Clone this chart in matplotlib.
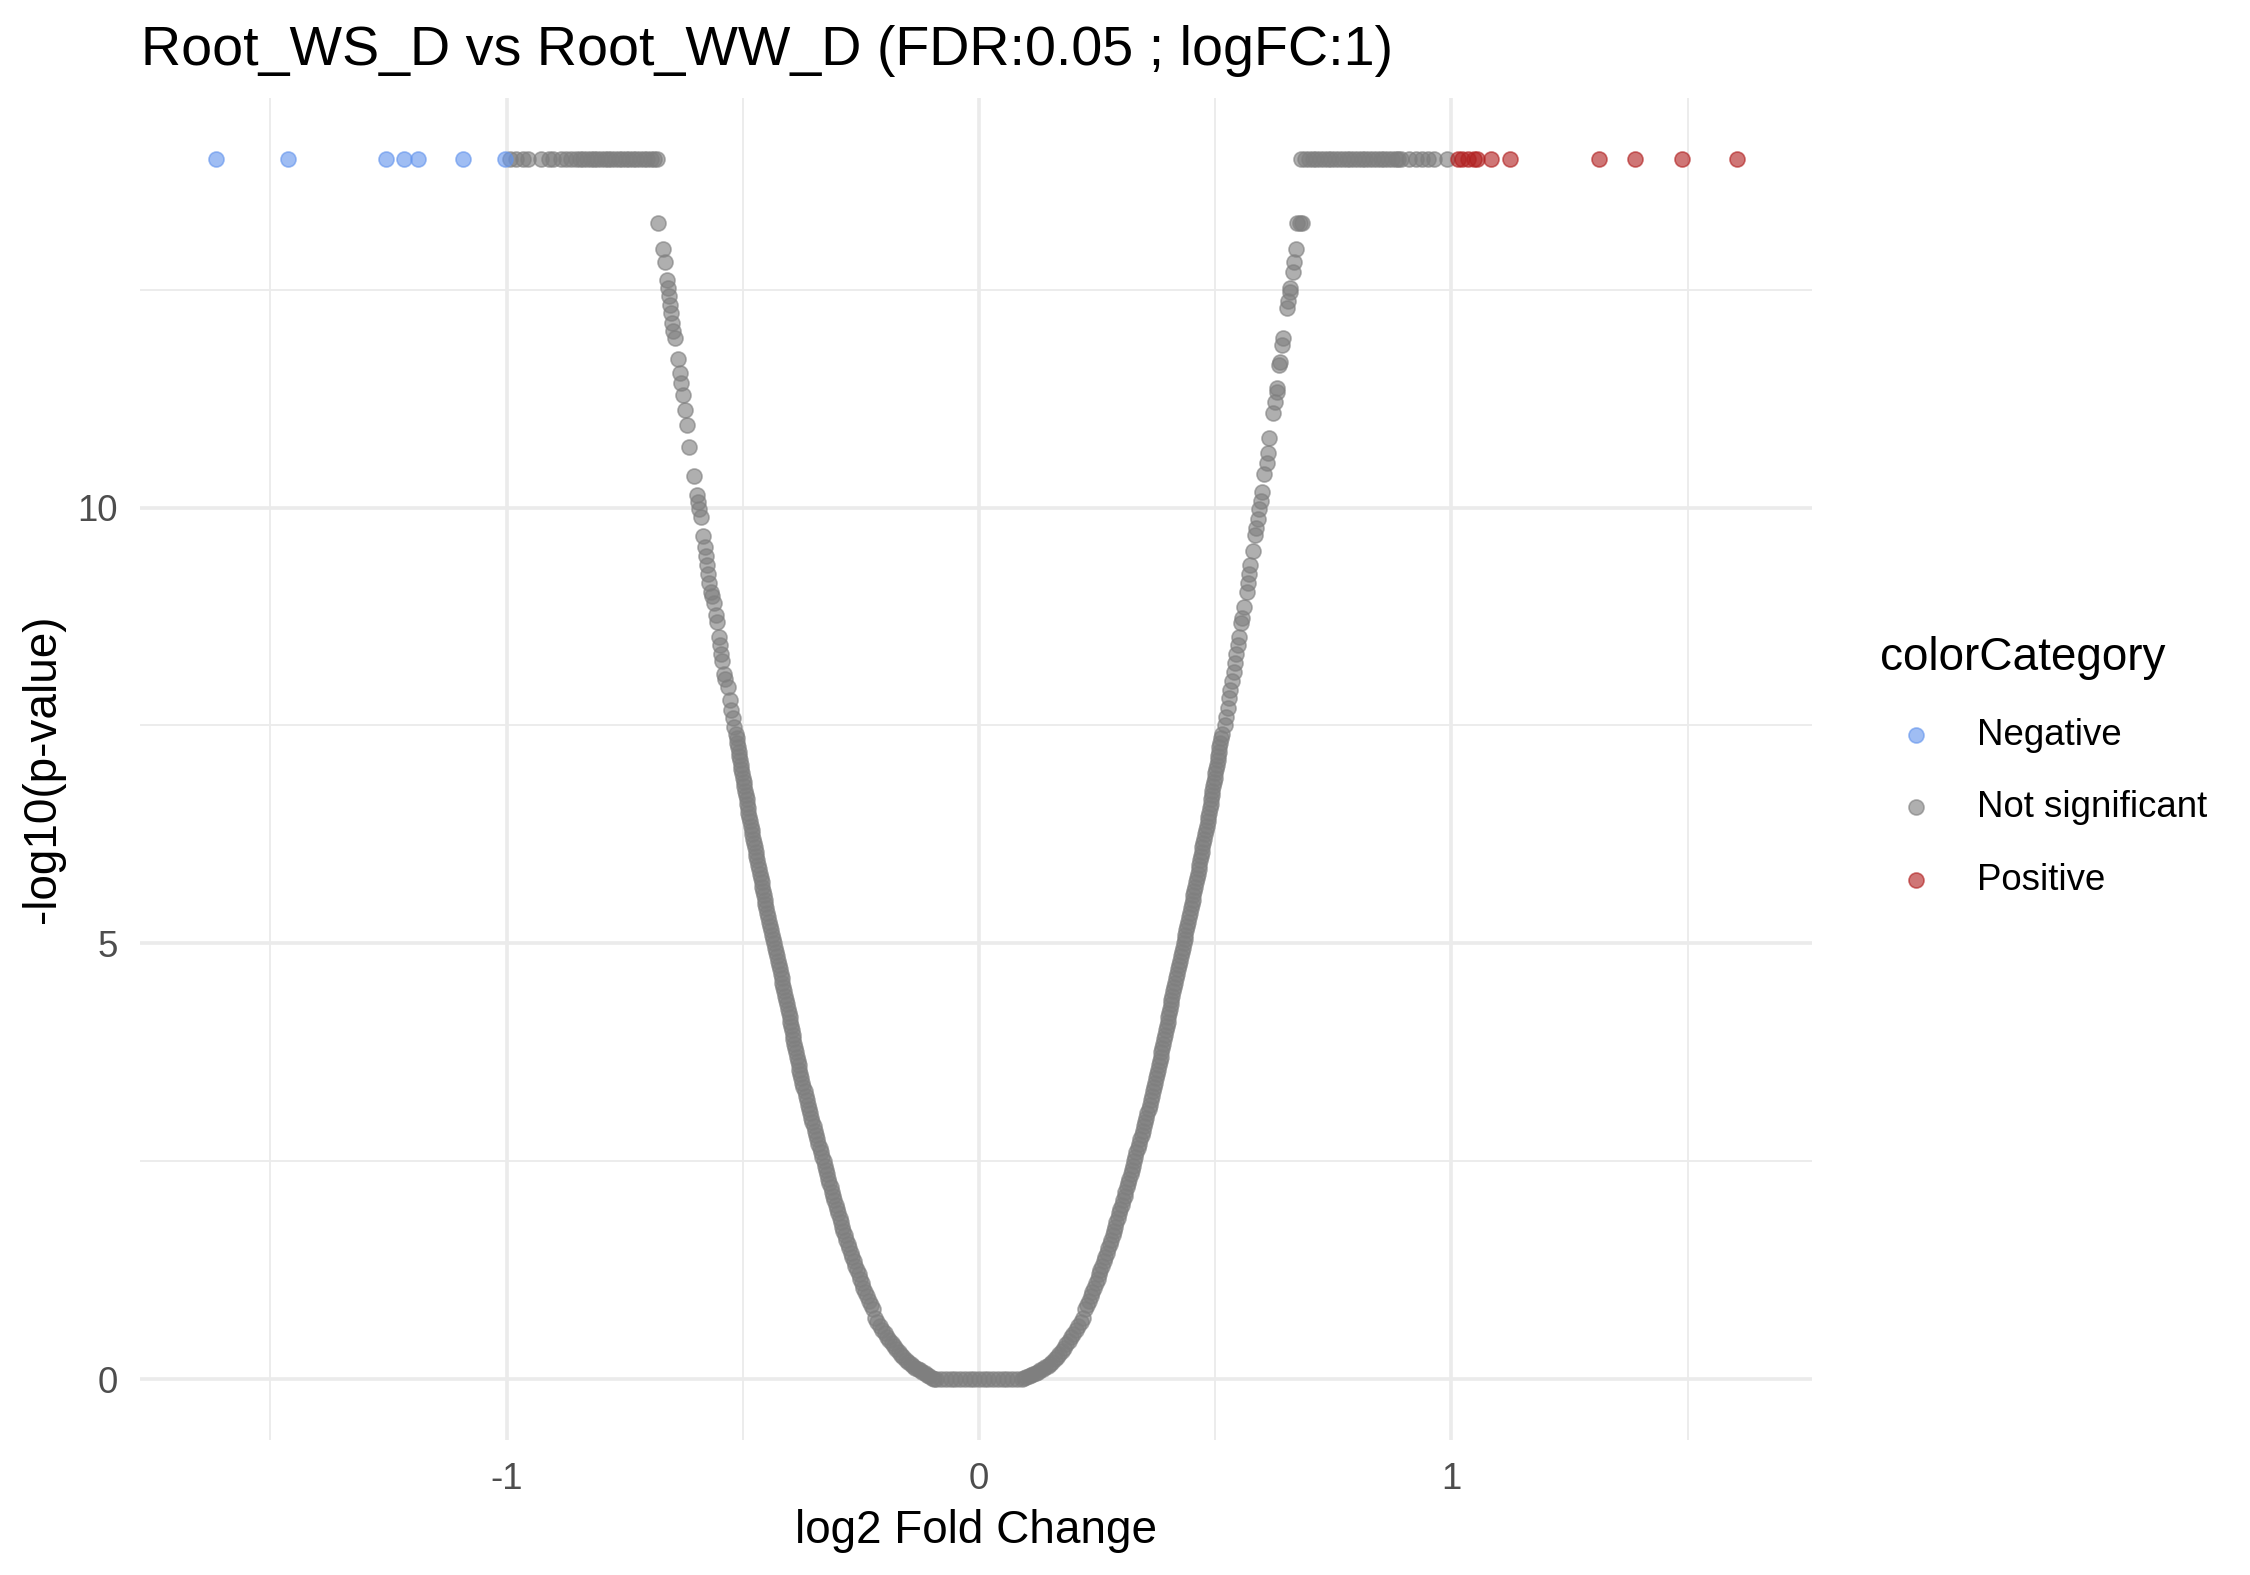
import numpy as np
import matplotlib
matplotlib.use("Agg")
import matplotlib.pyplot as plt
from matplotlib.ticker import MultipleLocator

plt.rcParams['font.family'] = ['Liberation Sans', 'DejaVu Sans']
plt.rcParams['axes.unicode_minus'] = False

# ---- data ----
p_cap = 14.0  # -log10(p) of genes with p == 0 (top row)

neg_lfc = [-1.616, -1.463, -1.256, -1.218, -1.187, -1.093, -1.003]
pos_lfc = [1.013, 1.022, 1.035, 1.047, 1.054, 1.083, 1.124, 1.312, 1.388, 1.487, 1.604]

top_gray_left = [-0.992, -0.979, -0.965, -0.955, -0.928, -0.911, -0.901, -0.884, -0.874,
                 -0.863, -0.852, -0.845, -0.838, -0.830, -0.822, -0.815, -0.808, -0.800,
                 -0.792, -0.785, -0.778, -0.770, -0.762, -0.755, -0.748, -0.740, -0.732,
                 -0.725, -0.718, -0.710, -0.703, -0.695, -0.688, -0.682]
top_gray_right = [0.682, 0.690, 0.698, 0.706, 0.714, 0.722, 0.730, 0.738, 0.746, 0.754,
                  0.762, 0.770, 0.778, 0.786, 0.794, 0.802, 0.810, 0.818, 0.826, 0.834,
                  0.842, 0.850, 0.858, 0.866, 0.874, 0.882, 0.887, 0.894, 0.910, 0.926,
                  0.938, 0.951, 0.964, 0.990]

# genes with p == 1 (flat bottom)
flat_lfc = [-0.09, -0.08, -0.07, -0.06, -0.05, -0.04, -0.03, -0.02, -0.01, 0.0,
            0.01, 0.02, 0.03, 0.04, 0.05, 0.06, 0.07, 0.08, 0.09]

# lower bend of the two arms
bend_left_abs = [0.095, 0.100, 0.105, 0.110, 0.115, 0.120, 0.125, 0.130, 0.135, 0.140,
                 0.145, 0.150, 0.155, 0.160, 0.165, 0.170, 0.175, 0.180, 0.185, 0.190,
                 0.195, 0.200, 0.205, 0.210, 0.215, 0.220]
bend_left_p = [0.005, 0.015, 0.032, 0.050, 0.066, 0.082, 0.098, 0.114, 0.132, 0.148,
               0.170, 0.195, 0.222, 0.250, 0.280, 0.310, 0.345, 0.380, 0.415, 0.450,
               0.487, 0.525, 0.565, 0.605, 0.650, 0.700]
bend_right = [0.095, 0.100, 0.105, 0.110, 0.115, 0.120, 0.125, 0.130,
              0.135, 0.140, 0.145, 0.150, 0.155, 0.160, 0.165, 0.170, 0.175, 0.180,
              0.185, 0.190, 0.195, 0.200, 0.205, 0.210, 0.215, 0.220]
bend_right_p = [0.008, 0.018, 0.030, 0.042, 0.055, 0.068, 0.082, 0.098,
                0.115, 0.133, 0.152, 0.175, 0.200, 0.228, 0.258, 0.290, 0.325, 0.360,
                0.398, 0.437, 0.478, 0.520, 0.563, 0.608, 0.655, 0.705]

# dense part of the arms
arm_p = [0.80, 0.85, 0.90, 0.95, 1.00, 1.05, 1.10, 1.15, 1.20, 1.25, 1.30, 1.35,
         1.40, 1.45, 1.50, 1.55, 1.60, 1.65, 1.70, 1.75, 1.80, 1.85, 1.90, 1.95,
         2.00, 2.05, 2.10, 2.15, 2.20, 2.25, 2.30, 2.35, 2.40, 2.45, 2.50, 2.55,
         2.60, 2.65, 2.70, 2.75, 2.80, 2.85, 2.90, 2.95, 3.00, 3.05, 3.10, 3.15,
         3.20, 3.25, 3.30, 3.35, 3.40, 3.45, 3.50, 3.55, 3.60, 3.65, 3.70, 3.75,
         3.80, 3.85, 3.90, 3.95, 4.00, 4.05, 4.10, 4.15, 4.20, 4.25, 4.30, 4.35,
         4.40, 4.45, 4.50, 4.55, 4.60, 4.65, 4.70, 4.75, 4.80, 4.85, 4.90, 4.95,
         5.00, 5.05, 5.10, 5.15, 5.20, 5.25, 5.30, 5.35, 5.40, 5.45, 5.50, 5.55,
         5.60, 5.65, 5.70, 5.75, 5.80, 5.85, 5.90, 5.95, 6.00, 6.05, 6.10, 6.15,
         6.20, 6.25, 6.30, 6.35, 6.40, 6.45, 6.50, 6.55, 6.60, 6.65, 6.70, 6.75,
         6.80, 6.85, 6.90, 6.95, 7.00, 7.05, 7.10, 7.15, 7.20, 7.25, 7.30, 7.35, 7.40]
arm_left_abs = [0.225, 0.229, 0.233, 0.237, 0.241, 0.245, 0.248, 0.252, 0.255, 0.258,
                0.262, 0.265, 0.268, 0.271, 0.275, 0.278, 0.281, 0.284, 0.287, 0.289,
                0.292, 0.295, 0.298, 0.300, 0.303, 0.306, 0.309, 0.311, 0.314, 0.317,
                0.319, 0.322, 0.324, 0.327, 0.329, 0.332, 0.334, 0.337, 0.340, 0.342,
                0.345, 0.348, 0.350, 0.353, 0.355, 0.357, 0.360, 0.362, 0.364, 0.367,
                0.369, 0.372, 0.374, 0.376, 0.378, 0.380, 0.382, 0.384, 0.386, 0.387,
                0.389, 0.391, 0.393, 0.394, 0.396, 0.398, 0.400, 0.401, 0.403, 0.405,
                0.407, 0.408, 0.410, 0.412, 0.414, 0.416, 0.418, 0.420, 0.422, 0.424,
                0.426, 0.428, 0.430, 0.432, 0.434, 0.436, 0.438, 0.440, 0.442, 0.444,
                0.446, 0.448, 0.450, 0.452, 0.453, 0.455, 0.457, 0.459, 0.460, 0.462,
                0.464, 0.466, 0.467, 0.469, 0.471, 0.473, 0.474, 0.476, 0.478, 0.480,
                0.481, 0.483, 0.485, 0.486, 0.488, 0.489, 0.491, 0.492, 0.494, 0.495,
                0.497, 0.498, 0.500, 0.501, 0.503, 0.504, 0.506, 0.507, 0.509, 0.510,
                0.512, 0.513, 0.514]
arm_right = [0.224, 0.228, 0.232, 0.236, 0.240, 0.244, 0.247, 0.251, 0.254, 0.257,
             0.261, 0.264, 0.267, 0.270, 0.274, 0.277, 0.280, 0.283, 0.286, 0.288,
             0.291, 0.294, 0.297, 0.299, 0.302, 0.305, 0.308, 0.310, 0.313, 0.316,
             0.318, 0.321, 0.323, 0.326, 0.328, 0.331, 0.333, 0.336, 0.339, 0.341,
             0.344, 0.347, 0.349, 0.352, 0.354, 0.356, 0.359, 0.361, 0.363, 0.366,
             0.368, 0.371, 0.373, 0.375, 0.377, 0.379, 0.381, 0.383, 0.385, 0.386,
             0.388, 0.390, 0.392, 0.393, 0.395, 0.397, 0.399, 0.400, 0.402, 0.404,
             0.406, 0.407, 0.409, 0.411, 0.413, 0.415, 0.417, 0.419, 0.421, 0.423,
             0.425, 0.427, 0.429, 0.431, 0.433, 0.435, 0.437, 0.439, 0.441, 0.443,
             0.445, 0.447, 0.449, 0.451, 0.452, 0.454, 0.456, 0.458, 0.459, 0.461,
             0.463, 0.465, 0.466, 0.468, 0.470, 0.472, 0.473, 0.475, 0.477, 0.479,
             0.480, 0.482, 0.484, 0.485, 0.487, 0.488, 0.490, 0.491, 0.493, 0.494,
             0.496, 0.497, 0.499, 0.500, 0.502, 0.503, 0.505, 0.506, 0.508, 0.509,
             0.511, 0.512, 0.514]

# sparse upper part of the arms
upper_left = [-0.680, -0.669, -0.664, -0.660, -0.658, -0.656, -0.654, -0.652, -0.650,
              -0.647, -0.644, -0.638, -0.633, -0.631, -0.627, -0.623, -0.618, -0.613,
              -0.604, -0.597, -0.595, -0.593, -0.589, -0.585, -0.581, -0.578, -0.575,
              -0.573, -0.571, -0.568, -0.565, -0.561, -0.556, -0.555, -0.551, -0.548,
              -0.546, -0.544, -0.539, -0.537, -0.532, -0.528, -0.525, -0.521, -0.518]
upper_left_p = [13.26, 12.97, 12.82, 12.61, 12.52, 12.43, 12.33, 12.23, 12.12,
                12.03, 11.95, 11.71, 11.54, 11.43, 11.29, 11.12, 10.95, 10.70,
                10.36, 10.14, 10.06, 9.98, 9.89, 9.67, 9.55, 9.44, 9.34,
                9.24, 9.14, 9.03, 8.99, 8.91, 8.77, 8.69, 8.51, 8.42,
                8.32, 8.24, 8.09, 8.03, 7.94, 7.79, 7.68, 7.58, 7.48]
upper_right = [0.674, 0.679, 0.684, 0.670, 0.666, 0.664, 0.659, 0.658, 0.655, 0.652,
               0.644, 0.642, 0.637, 0.636, 0.631, 0.630, 0.626, 0.623, 0.614, 0.611,
               0.609, 0.604, 0.599, 0.596, 0.593, 0.590, 0.587, 0.585, 0.580, 0.573,
               0.571, 0.569, 0.567, 0.561, 0.557, 0.555, 0.551, 0.548, 0.545, 0.542,
               0.539, 0.536, 0.532, 0.530, 0.527, 0.523, 0.520]
upper_right_p = [13.26, 13.26, 13.26, 12.97, 12.82, 12.70, 12.52, 12.47, 12.37, 12.29,
                 11.95, 11.86, 11.67, 11.64, 11.37, 11.33, 11.21, 11.08, 10.80, 10.63,
                 10.51, 10.38, 10.18, 10.08, 9.98, 9.87, 9.77, 9.68, 9.50, 9.34,
                 9.24, 9.14, 9.03, 8.86, 8.73, 8.67, 8.52, 8.42, 8.32, 8.22,
                 8.11, 8.01, 7.91, 7.81, 7.70, 7.60, 7.50]

categories = ["Negative", "Not significant", "Positive"]
cat_colors = {"Negative": "#6495ED", "Not significant": "#7F7F7F", "Positive": "#B22222"}

# ---- assemble the not-significant genes ----
ns_x = np.concatenate([top_gray_left, top_gray_right, flat_lfc,
                       -np.array(bend_left_abs), bend_right,
                       -np.array(arm_left_abs), arm_right,
                       upper_left, upper_right])
ns_y = np.concatenate([np.full(len(top_gray_left), p_cap), np.full(len(top_gray_right), p_cap),
                       np.zeros(len(flat_lfc)),
                       bend_left_p, bend_right_p,
                       arm_p, arm_p,
                       upper_left_p, upper_right_p])

fig = plt.figure(figsize=(7.5, 5.25), dpi=300)
ax = fig.add_axes([0.0622, 0.0857, 0.7431, 0.8521])

pt_size = 13
edge_w = 0.4
alpha = 0.62
sc_ns = ax.scatter(ns_x, ns_y, s=pt_size, color=cat_colors["Not significant"], alpha=alpha,
                   linewidths=edge_w, label="Not significant", zorder=3)
sc_neg = ax.scatter(neg_lfc, np.full(len(neg_lfc), p_cap), s=pt_size, color=cat_colors["Negative"],
                    alpha=alpha, linewidths=edge_w, label="Negative", zorder=3)
sc_pos = ax.scatter(pos_lfc, np.full(len(pos_lfc), p_cap), s=pt_size, color=cat_colors["Positive"],
                    alpha=alpha, linewidths=edge_w, label="Positive", zorder=3)

ax.set_xlim(-1.776, 1.763)
ax.set_ylim(-0.7, 14.7)
ax.xaxis.set_major_locator(MultipleLocator(1))
ax.xaxis.set_minor_locator(MultipleLocator(0.5))
ax.yaxis.set_major_locator(MultipleLocator(5))
ax.yaxis.set_minor_locator(MultipleLocator(2.5))
ax.grid(which='major', color='#EBEBEB', linewidth=0.88)
ax.grid(which='minor', color='#EBEBEB', linewidth=0.45)
ax.set_axisbelow(True)
for s in ax.spines.values():
    s.set_visible(False)
ax.tick_params(which='both', length=0, labelsize=8.8, labelcolor='#4D4D4D', pad=5.3)

fig.text(0.0627, 0.9587, "Root_WS_D vs Root_WW_D (FDR:0.05 ; logFC:1)", fontsize=13.35,
         ha='left', va='baseline', color='black')
fig.text(0.4338, 0.0203, "log2 Fold Change", fontsize=11, ha='center', va='baseline')
fig.text(0.0191, 0.5117, "-log10(p-value)", fontsize=11, ha='center', va='center', rotation=90)

handles = [sc_neg, sc_ns, sc_pos]
leg = ax.legend(handles=handles, labels=categories, title="colorCategory",
                loc='upper left', bbox_to_anchor=(0.8356, 0.596), bbox_transform=fig.transFigure,
                frameon=False, fontsize=8.8, title_fontsize=11, borderpad=0, borderaxespad=0,
                handlelength=1.96, handletextpad=0.68, labelspacing=1.02,
                scatterpoints=1, alignment='left')

fig.savefig("out.png", dpi=300)
